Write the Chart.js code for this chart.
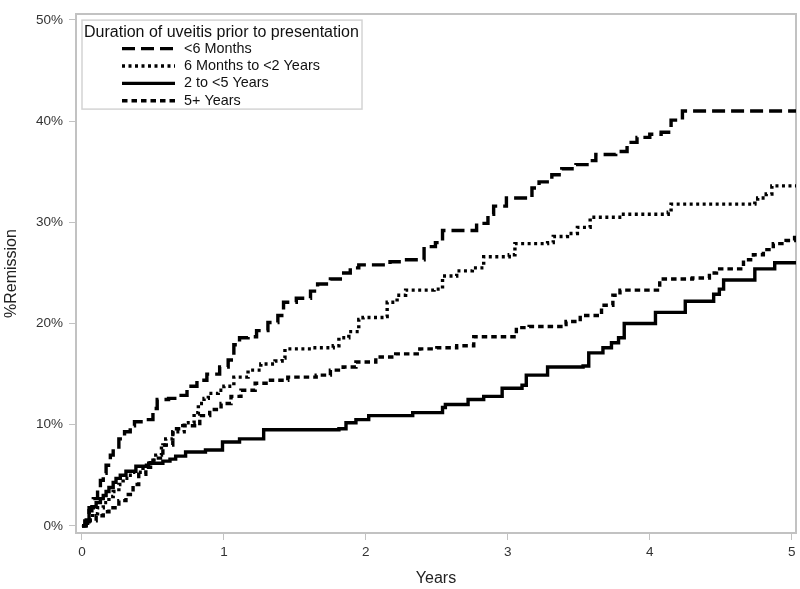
<!DOCTYPE html>
<html>
<head>
<meta charset="utf-8">
<title>Remission by duration of uveitis</title>
<script src="https://cdn.jsdelivr.net/npm/chart.js@4.4.1/dist/chart.umd.min.js"></script>
<style>
  html, body { margin: 0; padding: 0; background: #fff; }
  #wrap { width: 800px; height: 589px; }
</style>
</head>
<body>
<div id="wrap"><canvas id="remissionChart"></canvas></div>
<script>
// step curves: [years, % remission]
const lessThan6Months = [
  [0, 0], [0.03, 0.6], [0.05, 1.8], [0.08, 2.7], [0.11, 3.6], [0.13, 4.5], [0.15, 5.2], [0.17, 6.0],
  [0.2, 7.0], [0.22, 7.6], [0.26, 8.6], [0.3, 9.3], [0.34, 9.9], [0.37, 10.3], [0.45, 10.5], [0.5, 11.6],
  [0.53, 12.5], [0.61, 12.6], [0.67, 12.9], [0.74, 13.8], [0.81, 14.4], [0.88, 15.0], [0.97, 15.7],
  [1.03, 16.4], [1.07, 17.9], [1.11, 18.6], [1.17, 18.7], [1.23, 19.3], [1.31, 20.1], [1.38, 20.8],
  [1.42, 22.1], [1.51, 22.5], [1.61, 23.2], [1.66, 23.9], [1.75, 24.4], [1.82, 25.0], [1.89, 25.5],
  [1.95, 25.8], [2.17, 26.1], [2.26, 26.3], [2.41, 27.6], [2.49, 28.0], [2.54, 29.2], [2.78, 29.9],
  [2.86, 30.8], [2.9, 31.6], [2.99, 32.4], [3.17, 33.4], [3.22, 34.0], [3.31, 34.7], [3.38, 35.3],
  [3.48, 35.7], [3.57, 36.1], [3.62, 36.7], [3.76, 37.0], [3.84, 37.9], [3.91, 38.4], [4.0, 38.7],
  [4.08, 38.9], [4.15, 40.1], [4.23, 41.0], [5.03, 41.0]
];
const sixMonthsTo2Years = [
  [0, 0], [0.04, 0.6], [0.075, 1.2], [0.11, 1.8], [0.15, 2.3], [0.19, 2.9], [0.22, 3.4], [0.26, 4.1],
  [0.29, 4.7], [0.33, 5.0], [0.36, 5.3], [0.43, 6.0], [0.48, 6.5], [0.52, 7.0], [0.56, 8.0], [0.59, 8.6],
  [0.64, 9.3], [0.72, 10.2], [0.79, 11.2], [0.82, 12.1], [0.86, 12.6], [0.89, 13.1], [0.96, 13.4],
  [1.0, 13.8], [1.07, 14.7], [1.17, 15.4], [1.26, 16.0], [1.36, 16.3], [1.41, 16.6], [1.43, 17.5],
  [1.62, 17.6], [1.77, 17.8], [1.81, 18.6], [1.88, 19.2], [1.95, 20.4], [1.98, 20.6], [2.13, 20.7],
  [2.15, 22.1], [2.22, 22.8], [2.28, 23.3], [2.48, 23.4], [2.54, 24.7], [2.64, 25.2], [2.75, 25.5],
  [2.83, 26.6], [3.01, 26.8], [3.05, 27.9], [3.28, 28.0], [3.32, 28.6], [3.42, 28.9], [3.49, 29.5],
  [3.58, 30.5], [3.8, 30.8], [4.13, 31.0], [4.15, 31.8], [4.74, 31.9], [4.76, 32.4], [4.82, 32.8],
  [4.86, 33.6], [5.03, 33.6]
];
const twoTo5Years = [
  [0, 0], [0.02, 0.5], [0.05, 1.5], [0.07, 1.9], [0.1, 2.3], [0.13, 2.7], [0.15, 3.0], [0.17, 3.4],
  [0.19, 3.8], [0.22, 4.3], [0.24, 4.7], [0.27, 5.0], [0.31, 5.4], [0.38, 5.9], [0.47, 6.2], [0.57, 6.4],
  [0.62, 6.6], [0.66, 6.9], [0.73, 7.3], [0.87, 7.5], [0.99, 8.3], [1.11, 8.6], [1.28, 9.5], [1.81, 9.6],
  [1.86, 10.2], [1.93, 10.5], [2.02, 10.9], [2.33, 11.2], [2.54, 11.7], [2.56, 12.0], [2.72, 12.5],
  [2.83, 12.8], [2.96, 13.6], [3.1, 13.9], [3.13, 14.9], [3.28, 15.7], [3.53, 15.8], [3.57, 17.1],
  [3.67, 17.6], [3.73, 18.1], [3.78, 18.6], [3.82, 20.0], [4.04, 21.1], [4.25, 22.2], [4.45, 22.9],
  [4.49, 23.4], [4.52, 24.3], [4.74, 25.4], [4.88, 26.0], [5.03, 26.0]
];
const fivePlusYears = [
  [0, 0], [0.05, 0.5], [0.1, 1.0], [0.15, 1.4], [0.19, 1.8], [0.26, 2.5], [0.31, 3.1], [0.36, 4.1],
  [0.4, 5.1], [0.45, 5.8], [0.5, 6.7], [0.57, 8.0], [0.64, 9.6], [0.71, 9.9], [0.83, 10.9], [0.9, 11.5],
  [0.98, 12.1], [1.05, 12.8], [1.12, 13.4], [1.22, 14.1], [1.31, 14.4], [1.45, 14.7], [1.65, 14.9],
  [1.75, 15.4], [1.84, 15.7], [1.93, 16.2], [2.07, 16.7], [2.21, 17.0], [2.38, 17.5], [2.5, 17.6],
  [2.64, 17.8], [2.76, 18.7], [3.06, 19.6], [3.15, 19.7], [3.39, 19.9], [3.41, 20.2], [3.51, 20.8],
  [3.66, 21.8], [3.74, 22.8], [3.79, 23.3], [4.07, 24.4], [4.3, 24.5], [4.42, 25.0], [4.47, 25.4],
  [4.66, 26.3], [4.73, 26.8], [4.8, 27.3], [4.87, 27.9], [4.96, 28.2], [5.02, 28.5], [5.03, 28.5]
];

const seriesLabels = ['<6 Months', '6 Months to <2 Years', '2 to <5 Years', '5+ Years'];
const legendTitle = 'Duration of uveitis prior to presentation';
const xTicks = [0, 1, 2, 3, 4, 5];
const yTicks = [0, 10, 20, 30, 40, 50];

const FONT = '"Liberation Sans", Arial, sans-serif';
const AXIS_GRAY = '#c2c2c2';

function toPoints(rows) {
  return rows.map(r => ({ x: r[0], y: r[1] }));
}

// gray frame on the top and right of the plot area
const plotFrame = {
  id: 'plotFrame',
  beforeDatasetsDraw(chart) {
    const { ctx, chartArea: a } = chart;
    ctx.save();
    ctx.strokeStyle = AXIS_GRAY;
    ctx.lineWidth = 2;
    ctx.beginPath();
    ctx.moveTo(a.left, a.top);
    ctx.lineTo(a.right, a.top);
    ctx.lineTo(a.right, a.bottom);
    ctx.stroke();
    ctx.restore();
  }
};

// boxed legend inside the top left corner, line samples taken from the datasets
const insetLegend = {
  id: 'insetLegend',
  afterDraw(chart) {
    const { ctx, chartArea } = chart;
    const x = chartArea.left + 6;
    const y = chartArea.top + 6;
    ctx.save();
    ctx.fillStyle = '#fff';
    ctx.fillRect(x, y, 280, 89);
    ctx.strokeStyle = '#d4d4d4';
    ctx.lineWidth = 1.5;
    ctx.strokeRect(x, y, 280, 89);

    ctx.fillStyle = '#111';
    ctx.textAlign = 'left';
    ctx.textBaseline = 'middle';
    ctx.font = '16px ' + FONT;
    ctx.fillText(legendTitle, x + 2, y + 12);

    ctx.font = '14.4px ' + FONT;
    chart.data.datasets.forEach((ds, i) => {
      const cy = y + 28.5 + i * 17.4;
      ctx.beginPath();
      ctx.setLineDash(ds.borderDash || []);
      ctx.lineWidth = ds.borderWidth;
      ctx.strokeStyle = ds.borderColor;
      ctx.moveTo(x + 40, cy);
      ctx.lineTo(x + 93, cy);
      ctx.stroke();
      ctx.setLineDash([]);
      ctx.fillText(ds.label, x + 102, cy);
    });
    ctx.restore();
  }
};

function makeDataset(label, rows, dash) {
  return {
    label: label,
    data: toPoints(rows),
    stepped: 'before',
    borderColor: '#000',
    borderWidth: 3.4,
    borderDash: dash,
    borderCapStyle: 'butt',
    pointRadius: 0,
    fill: false
  };
}

const ctx = document.getElementById('remissionChart').getContext('2d');
new Chart(ctx, {
  type: 'line',
  data: {
    datasets: [
      makeDataset(seriesLabels[0], lessThan6Months, [13, 6]),
      makeDataset(seriesLabels[1], sixMonthsTo2Years, [3, 3.5]),
      makeDataset(seriesLabels[2], twoTo5Years, []),
      makeDataset(seriesLabels[3], fivePlusYears, [5.5, 4])
    ]
  },
  options: {
    responsive: true,
    maintainAspectRatio: false,
    animation: false,
    layout: { padding: { top: 2, right: 4, left: 0, bottom: 0 } },
    plugins: {
      legend: { display: false },
      tooltip: { enabled: false }
    },
    scales: {
      x: {
        type: 'linear',
        min: -0.042,
        max: 5.03,
        afterBuildTicks: scale => { scale.ticks = xTicks.map(v => ({ value: v })); },
        afterFit: scale => { scale.height = 56; },
        border: { display: true, color: AXIS_GRAY, width: 2 },
        grid: { display: true, drawOnChartArea: false, drawTicks: true, tickLength: 7, color: AXIS_GRAY, lineWidth: 1 },
        ticks: {
          padding: 4,
          color: '#333',
          font: { family: FONT, size: 13.5 },
          maxRotation: 0,
          autoSkip: false,
          callback: v => String(v)
        },
        title: {
          display: true,
          text: 'Years',
          color: '#222',
          font: { family: FONT, size: 16 },
          padding: { top: 0, bottom: 1 }
        }
      },
      y: {
        type: 'linear',
        min: -0.7,
        max: 50.58,
        afterBuildTicks: scale => { scale.ticks = yTicks.map(v => ({ value: v })); },
        afterFit: scale => { scale.width = 76; },
        border: { display: true, color: AXIS_GRAY, width: 2 },
        grid: { display: true, drawOnChartArea: false, drawTicks: true, tickLength: 7, color: AXIS_GRAY, lineWidth: 1 },
        ticks: {
          padding: 6,
          color: '#333',
          font: { family: FONT, size: 13.5 },
          autoSkip: false,
          callback: v => v + '%'
        },
        title: {
          display: true,
          text: '%Remission',
          color: '#222',
          font: { family: FONT, size: 16 },
          padding: { top: 2, bottom: 0 }
        }
      }
    }
  },
  plugins: [plotFrame, insetLegend]
});
</script>
</body>
</html>
